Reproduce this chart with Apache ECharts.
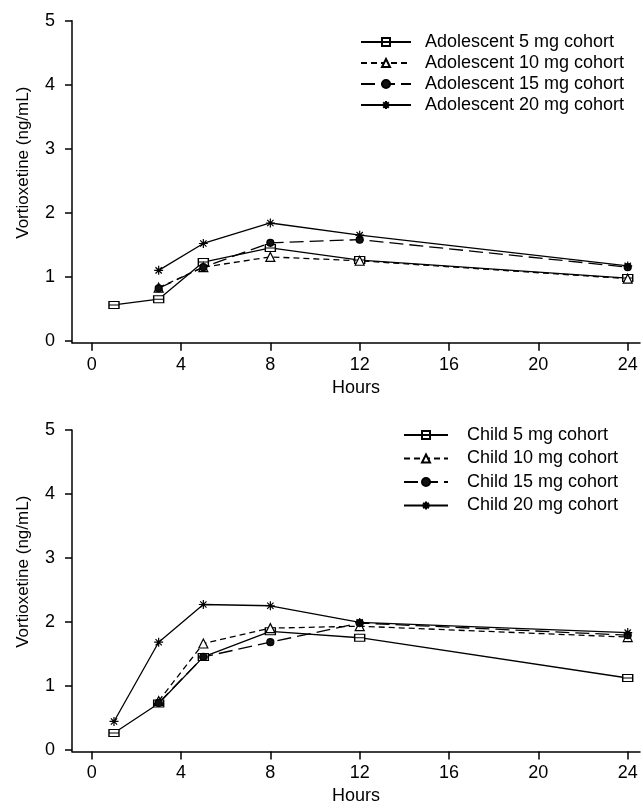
<!DOCTYPE html>
<html>
<head>
<meta charset="utf-8">
<title>Vortioxetine concentration</title>
<script src="https://cdn.jsdelivr.net/npm/echarts@6/dist/echarts.min.js"></script>
<style>
html, body { margin: 0; padding: 0; background: #fff; }
#main { width: 643px; height: 810px; }
</style>
</head>
<body>
<div id="main"></div>
<script>
// sampling times (hours)
var hoursFull = [1, 3, 5, 8, 12, 24];
var hoursFrom3 = [3, 5, 8, 12, 24];
var xTicks = [0, 4, 8, 12, 16, 20, 24];
var yTicks = [0, 1, 2, 3, 4, 5];

// adolescent cohorts (ng/mL)
var adol5 = [0.56, 0.65, 1.23, 1.45, 1.26, 0.98];
var adol10 = [0.83, 1.15, 1.31, 1.25, 0.97];
var adol15 = [0.82, 1.15, 1.53, 1.58, 1.15];
var adol20 = [1.10, 1.52, 1.84, 1.65, 1.17];

// child cohorts (ng/mL)
var child5 = [0.26, 0.72, 1.45, 1.85, 1.75, 1.12];
var child10 = [0.76, 1.66, 1.90, 1.93, 1.76];
var child15 = [0.73, 1.45, 1.68, 1.98, 1.79];
var child20 = [0.44, 1.68, 2.27, 2.25, 1.99, 1.83];

var adolNames = ['Adolescent 5 mg cohort', 'Adolescent 10 mg cohort', 'Adolescent 15 mg cohort', 'Adolescent 20 mg cohort'];
var childNames = ['Child 5 mg cohort', 'Child 10 mg cohort', 'Child 15 mg cohort', 'Child 20 mg cohort'];

var FONT = '"Liberation Sans", Arial, sans-serif';

// marker shapes
var SQUARE = 'path://M0,0L10,0L10,7L0,7Z M0,3.5L10,3.5';
var TRIANGLE = 'path://M5,0L10,9L0,9Z';
var STAR = 'path://M5,0L5,10M0,5L10,5M1.5,1.5L8.5,8.5M8.5,1.5L1.5,8.5';

function pairs(xs, ys) {
    return xs.map(function (x, i) { return [x, ys[i]]; });
}

function lineSeries(name, xs, ys, gi, symbol, size, fill, dash) {
    return {
        name: name,
        type: 'line',
        xAxisIndex: gi,
        yAxisIndex: gi,
        data: pairs(xs, ys),
        symbol: symbol,
        symbolSize: size,
        showAllSymbol: true,
        itemStyle: { color: fill, borderColor: '#000', borderWidth: 1.2 },
        lineStyle: { color: '#000', width: 1.3, type: dash },
        emphasis: { disabled: true },
        silent: true
    };
}

function xAxisFor(gi) {
    return {
        type: 'value',
        gridIndex: gi,
        min: -0.88,
        max: 24.55,
        name: 'Hours',
        nameLocation: 'middle',
        nameGap: 36,
        nameTextStyle: { fontSize: 18, color: '#000', fontFamily: FONT },
        axisLine: { show: true, onZero: false, lineStyle: { color: '#000', width: 1.5 } },
        axisTick: { show: true, customValues: xTicks, length: 8, lineStyle: { color: '#000', width: 1.5 } },
        axisLabel: { customValues: xTicks, fontSize: 18, color: '#000', fontFamily: FONT, margin: 13 },
        splitLine: { show: false }
    };
}

function yAxisFor(gi) {
    return {
        type: 'value',
        gridIndex: gi,
        min: -0.03,
        max: 5,
        name: 'Vortioxetine (ng/mL)',
        nameLocation: 'middle',
        nameGap: 40,
        nameTextStyle: { fontSize: 17, color: '#000', fontFamily: FONT, padding: [0, 0, 0, 38] },
        axisLine: { show: true, onZero: false, lineStyle: { color: '#000', width: 1.5 } },
        axisTick: { show: true, customValues: yTicks, length: 7, lineStyle: { color: '#000', width: 1.5 } },
        axisLabel: { customValues: yTicks, fontSize: 18, color: '#000', fontFamily: FONT, margin: 17 },
        splitLine: { show: false }
    };
}

function legendFor(names, left, top, itemWidth, gap, textPad) {
    return {
        orient: 'vertical',
        left: left,
        top: top,
        padding: 0,
        itemWidth: itemWidth,
        itemHeight: 10,
        itemGap: gap,
        selectedMode: false,
        data: names,
        textStyle: { fontSize: 18, color: '#000', fontFamily: FONT, lineHeight: 18, padding: [0, 0, 0, textPad] }
    };
}

var chart = echarts.init(document.getElementById('main'), null, { renderer: 'canvas' });

var option = {
    backgroundColor: '#fff',
    animation: false,
    grid: [
        { left: 72, top: 20.7, width: 568, height: 322 },
        { left: 72, top: 430, width: 568, height: 321.5 }
    ],
    xAxis: [xAxisFor(0), xAxisFor(1)],
    yAxis: [yAxisFor(0), yAxisFor(1)],
    legend: [
        legendFor(adolNames, 360, 33, 50, 3, 9),
        legendFor(childNames, 403, 426, 44, 5.5, 14)
    ],
    series: [
        lineSeries(adolNames[0], hoursFull, adol5, 0, SQUARE, [10, 7], '#fff', 'solid'),
        lineSeries(adolNames[1], hoursFrom3, adol10, 0, TRIANGLE, 9, '#fff', [6, 4]),
        lineSeries(adolNames[2], hoursFrom3, adol15, 0, 'circle', 7, '#111', [14, 6]),
        lineSeries(adolNames[3], hoursFrom3, adol20, 0, STAR, 9, '#fff', 'solid'),
        lineSeries(childNames[0], hoursFull, child5, 1, SQUARE, [10, 7], '#fff', 'solid'),
        lineSeries(childNames[1], hoursFrom3, child10, 1, TRIANGLE, 9, '#fff', [6, 4]),
        lineSeries(childNames[2], hoursFrom3, child15, 1, 'circle', 7, '#111', [14, 6]),
        lineSeries(childNames[3], hoursFull, child20, 1, STAR, 9, '#fff', 'solid')
    ]
};

chart.setOption(option);

window.onresize = function () {
    chart.resize();
};
</script>
</body>
</html>
